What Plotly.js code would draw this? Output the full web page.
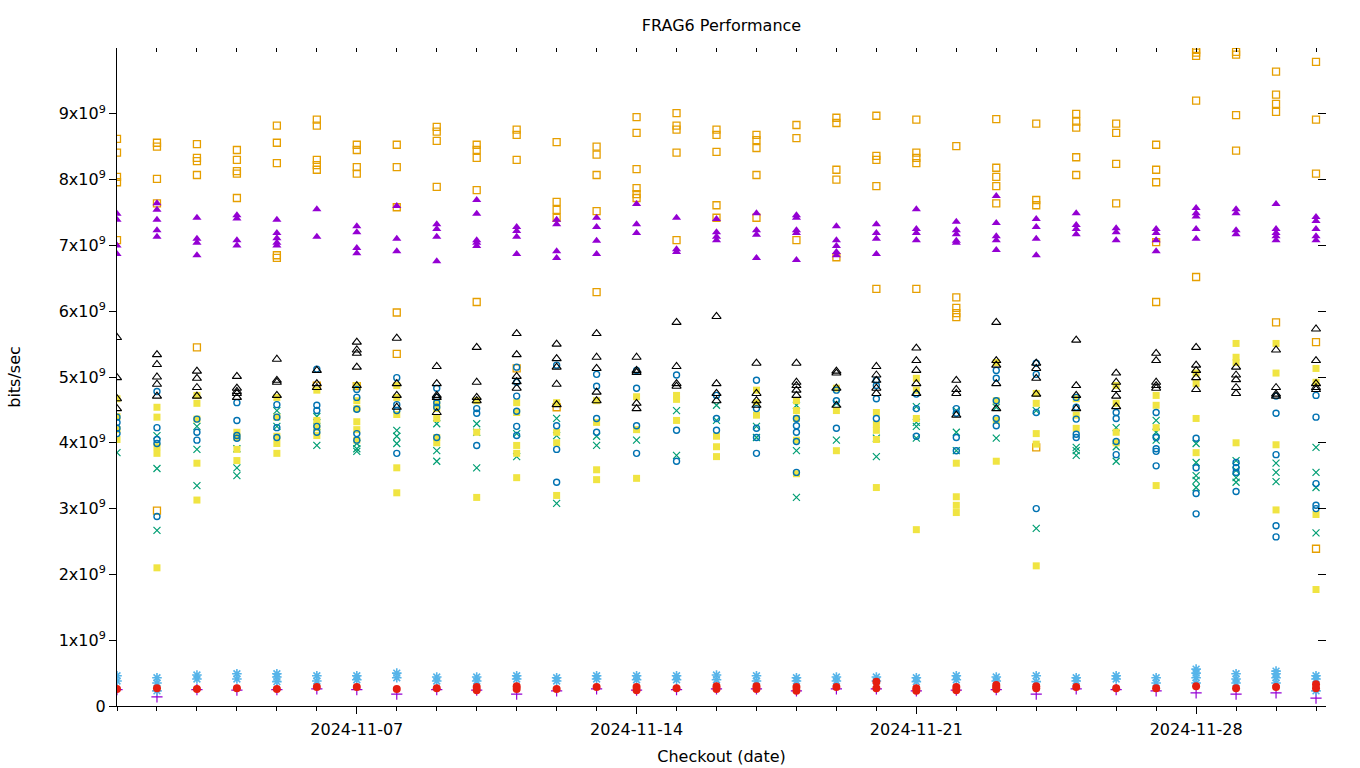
<!DOCTYPE html>
<html>
<head>
<meta charset="utf-8">
<script src="https://cdn.plot.ly/plotly-3.0.1.min.js"></script>
<style>html,body{margin:0;padding:0;background:#fff;}#chart{width:1360px;height:768px;}</style>
</head>
<body>
<div id="chart"></div>
<script>
// Checkout dates (one column of points per day)
const dates = ['2024-11-01','2024-11-02','2024-11-03','2024-11-04','2024-11-05','2024-11-06','2024-11-07','2024-11-08','2024-11-09','2024-11-10','2024-11-11','2024-11-12','2024-11-13','2024-11-14','2024-11-15','2024-11-16','2024-11-17','2024-11-18','2024-11-19','2024-11-20','2024-11-21','2024-11-22','2024-11-23','2024-11-24','2024-11-25','2024-11-26','2024-11-27','2024-11-28','2024-11-29','2024-11-30','2024-12-01'];

// values in units of 1e9 bits/sec, one sub-list per date
const s1Plus = [[0.25],[0.14],[0.25],[0.24],[0.25],[0.26],[0.25],[0.18],[0.25],[0.24],[0.18],[0.23],[0.26],[0.24],[0.25],[0.26],[0.26],[0.23],[0.26],[0.26],[0.23],[0.24],[0.25],[0.18],[0.26],[0.25],[0.23],[0.20],[0.18],[0.20],[0.12]];
const s2Cross = [[3.85],[4.11,3.61,2.67],[4.25,3.90,3.35],[3.91,3.62,3.50],[4.49,4.25],[4.40,4.25,3.96],[3.99,3.91,3.87],[4.19,4.10,3.99],[4.29,3.88,3.72],[4.29,4.16,3.62],[4.14,3.79],[4.37,4.11,3.08],[4.10,3.96],[4.04],[4.49,3.81],[4.57,4.34],[4.25,4.08],[4.57,3.88,3.17],[4.60,4.04],[4.07,3.79],[4.55,4.31,4.25,4.07],[4.49,4.16,3.88],[4.54,4.07],[4.49,2.70],[3.93,3.88,3.81],[4.23,3.94,3.72],[4.34,4.16,4.04],[3.99,3.70,3.50,3.43,3.32],[3.73,3.58,3.47,3.40],[3.69,3.55,3.41],[3.93,3.55,3.32,2.63]];
const s3Star = [[0.46,0.38],[0.43,0.35,0.23],[0.47,0.41],[0.49,0.41],[0.49,0.44,0.37],[0.46,0.38],[0.46,0.40],[0.50,0.43],[0.44,0.38],[0.44,0.38],[0.46,0.41],[0.43,0.38],[0.46,0.41],[0.46,0.40],[0.46,0.40],[0.47,0.40],[0.46,0.38],[0.43,0.38],[0.44,0.38],[0.44,0.38],[0.43,0.37],[0.46,0.40],[0.44,0.38],[0.46,0.37],[0.43,0.38],[0.46,0.41],[0.43,0.35],[0.56,0.50,0.43,0.35],[0.49,0.41,0.35],[0.53,0.49,0.43,0.35],[0.46,0.41,0.23]];
const s4OpenSq = [[8.62,8.41,8.04,7.96,7.08],[8.56,8.50,8.01,7.64,2.97],[8.54,8.33,8.28,8.07,5.45],[8.45,8.30,8.13,8.09,7.72],[8.82,8.56,8.25,6.85,6.81],[8.91,8.82,8.30,8.22,8.15,4.87],[8.53,8.45,8.19,8.09,4.86],[8.53,8.19,7.58,5.98,5.35],[8.80,8.73,8.59,7.89],[8.53,8.45,8.33,7.84,6.14],[8.76,8.68,8.30,5.13],[8.57,7.66,7.54,7.42,4.54],[8.50,8.38,8.07,7.52,6.29],[8.95,8.71,8.16,7.87,7.78,7.72],[9.01,8.82,8.76,8.41,7.08],[8.76,8.68,8.42,7.61,7.42],[8.68,8.60,8.48,8.07,7.42],[8.83,8.63,7.08],[8.94,8.86,8.15,8.00,6.82],[8.97,8.36,8.30,7.90,6.34],[8.91,8.41,8.33,8.25,6.34],[8.51,6.21,6.05,5.97,5.91],[8.92,8.18,8.04,7.90,7.64],[8.85,7.69,7.61,3.93],[9.00,8.88,8.79,8.34,8.07],[8.85,8.71,8.24,7.64],[8.53,8.15,7.96,7.05,6.14],[9.97,9.93,9.88,9.20,6.52],[9.94,9.90,8.98,8.44],[9.64,9.29,9.15,9.03,5.83],[9.79,8.91,8.09,5.53,2.39]];
const s5FillSq = [[4.67,4.40,4.20,4.05],[4.54,4.39,3.94,3.84,2.10],[4.72,4.60,4.36,3.69,3.13],[4.16,4.08,3.90,3.73],[4.69,4.39,4.10,3.99,3.84],[4.80,4.34,4.23,4.11],[4.87,4.64,4.52,4.32,4.20,4.04],[4.87,4.69,4.43,3.62,3.24],[4.61,4.52,4.37,4.08,4.00],[4.64,4.16,3.17],[4.61,4.46,3.96,3.84,3.47],[4.61,4.16,4.00,3.20],[4.64,4.31,3.59,3.44],[4.70,4.20,3.46],[4.72,4.66,4.34],[4.10,3.94,3.79],[4.80,4.61,4.42],[4.64,4.49,4.37,4.04,3.53],[4.83,4.49,3.88],[4.46,4.28,4.19,4.05,3.32],[4.98,4.80,4.37,2.68],[3.69,3.18,3.05,2.94],[5.22,4.64,4.34,3.72],[4.75,4.60,4.14,3.98,2.13],[4.67,4.42,4.22],[4.87,4.60,4.16,4.00],[4.72,4.57,4.23,3.35],[5.06,4.90,4.37,3.85],[5.51,5.30,5.22,4.00],[5.51,5.06,3.97,2.98],[5.13,4.92,2.91,1.77]];
const s6Circ = [[4.39,4.31,4.22,4.14],[4.78,4.23,4.05,3.99,2.88],[4.36,4.16,4.04],[4.61,4.34,4.11,4.07],[4.58,4.39,4.23,4.08],[5.12,4.57,4.49,4.25,4.16],[4.81,4.69,4.51,4.14,4.04],[4.99,4.58,4.49,3.84],[4.83,4.69,4.61,4.54,4.08],[4.52,4.45,3.96],[5.15,4.92,4.71,4.48,4.25,4.11],[5.18,4.26,3.90,3.40],[5.04,4.86,4.37,4.16],[5.10,4.83,4.26,3.84],[5.03,4.19,3.72],[4.72,4.37,4.19],[4.95,4.52,4.22,4.08,3.84],[4.37,4.26,4.16,4.02,3.55],[4.80,4.64,4.22],[4.95,4.87,4.67,4.37],[4.74,4.52,4.10],[4.52,4.45,4.08,3.88],[5.10,4.98,4.64,4.37,4.26],[5.21,5.04,4.46,3.00],[4.69,4.54,4.36,4.13,4.08],[4.46,4.37,4.02,3.82],[4.46,4.08,3.91,3.87,3.65],[4.07,3.62,3.23,2.92],[3.70,3.62,3.55,3.26],[4.71,4.45,3.82,2.74,2.57],[4.72,4.39,3.38,3.05,3.00]];
const s7Dot = [[0.26],[0.27],[0.26],[0.27],[0.26],[0.29],[0.29],[0.26],[0.27],[0.29,0.24],[0.30,0.26],[0.26],[0.29],[0.29,0.24],[0.27],[0.30,0.26],[0.30,0.26],[0.29,0.23],[0.29],[0.37,0.27],[0.27,0.23],[0.29,0.24],[0.32,0.29,0.26],[0.30,0.27],[0.29],[0.27],[0.27],[0.30],[0.27],[0.29],[0.33,0.27]];
const s8OpenTri = [[5.60,4.99,4.67,4.52],[5.34,5.19,5.00,4.89,4.71],[5.09,4.98,4.84,4.71],[5.01,4.83,4.78,4.75,4.69],[5.27,4.95,4.92,4.72],[5.10,4.90,4.84],[5.53,5.41,5.36,5.15,4.87],[5.59,4.90,4.72,4.54],[5.16,4.90,4.72,4.69,4.46],[5.45,4.92,4.69,4.64],[5.66,5.34,5.01,4.93,4.83],[5.50,5.28,5.15,4.89,4.58],[5.66,5.30,5.13,4.77,4.64],[5.30,5.10,5.07,4.60,4.52],[5.83,5.16,4.90,4.86],[5.92,4.90,4.75,4.64],[5.21,4.75,4.64,4.57],[5.21,4.92,4.87,4.80,4.72],[5.09,5.06,4.83,4.57],[5.16,5.03,4.95,4.83,4.75],[5.44,5.25,5.10,4.90,4.75],[4.95,4.81,4.75,4.42],[5.83,5.25,5.18,4.90,4.52],[5.21,5.13,4.98,4.74],[5.56,4.87,4.72,4.52],[5.06,4.92,4.81,4.71,4.55],[5.36,5.25,4.92,4.87,4.83],[5.45,5.18,5.10,4.99,4.81],[5.15,5.03,4.96,4.84,4.75],[5.41,4.84,4.74,4.71],[5.73,5.25,4.90,4.84,4.81]];
const s9FillTri = [[7.48,7.39,7.00,6.87],[7.64,7.54,7.39,7.23,7.13],[7.42,7.10,7.04,6.85],[7.46,7.41,7.08,7.00],[7.39,7.19,7.11,7.04,7.00],[7.55,7.13],[7.29,7.20,6.96,6.88],[7.60,7.10,6.91],[7.32,7.25,7.13,6.76],[7.69,7.48,7.08,7.04,6.99],[7.28,7.22,7.13,6.87],[7.39,7.32,6.91,6.81],[7.42,7.28,7.07,6.87],[7.63,7.32,7.19],[7.42,6.94,6.90],[7.40,7.20,7.13,7.08],[7.49,7.23,7.16,6.81],[7.46,7.42,7.23,7.19,6.78],[7.29,7.08,6.99,6.90,6.85],[7.32,7.19,7.10,6.87],[7.55,7.25,7.19,7.08],[7.36,7.23,7.17,7.07,7.04],[7.75,7.34,7.14,7.08,6.93],[7.40,7.28,7.10,6.85],[7.49,7.31,7.25,7.17],[7.26,7.20,7.08],[7.25,7.19,7.08,6.91],[7.57,7.49,7.44,7.25,7.10],[7.55,7.49,7.23,7.17],[7.63,7.25,7.19,7.14,7.08],[7.43,7.37,7.25,7.14,7.08]];

const yTickVals = [0,1,2,3,4,5,6,7,8,9];
const yTickText = ['0','1x10<sup>9</sup>','2x10<sup>9</sup>','3x10<sup>9</sup>','4x10<sup>9</sup>','5x10<sup>9</sup>','6x10<sup>9</sup>','7x10<sup>9</sup>','8x10<sup>9</sup>','9x10<sup>9</sup>'];

function flatten(series){
  const x=[], y=[];
  series.forEach((vals,i)=>vals.forEach(v=>{x.push(dates[i]); y.push(v*1e9);}));
  return {x,y};
}
function tr(series, symbol, color, size, lw){
  const f = flatten(series);
  return {type:'scatter', mode:'markers', x:f.x, y:f.y, hoverinfo:'skip',
    marker:{symbol:symbol, size:size, color:color, line:{color:color, width:lw}}};
}
const traces = [
  tr(s1Plus,'cross-thin-open','#9400d3',8,1.2),
  tr(s2Cross,'x-thin-open','#009e73',7,1.2),
  tr(s3Star,'asterisk-open','#56b4e9',8,1.6),
  tr(s4OpenSq,'square-open','#e69f00',7,1.3),
  tr(s5FillSq,'square','#f0e442',7,0),
  tr(s6Circ,'circle-open','#0072b2',6,1.4),
  tr(s7Dot,'circle','#e51e10',8,0),
  tr(s8OpenTri,'triangle-up-open','#000000',8,1.1),
  tr(s9FillTri,'triangle-up','#9400d3',8,0),
  {type:'scatter', mode:'markers', x:[], y:[], xaxis:'x2', yaxis:'y2', hoverinfo:'skip', showlegend:false}
];

const xr = ['2024-11-01 00:00','2024-12-01 06:00'];
const yr = [0, 1e10];
const font = {family:'DejaVu Sans, sans-serif', size:16, color:'#000'};
const layout = {
  width:1360, height:768, showlegend:false,
  paper_bgcolor:'#fff', plot_bgcolor:'#fff',
  font: font,
  margin:{l:117, r:34, t:48, b:62, pad:0},
  title:{text:'FRAG6 Performance', x:0.5, xref:'paper', xanchor:'center', y:1-25/768, yanchor:'middle', yref:'container', font:font},
  xaxis:{type:'date', range:xr, showgrid:false, zeroline:false, showline:true, linecolor:'#000', linewidth:1,
    ticks:'outside', ticklen:7, tickcolor:'#000', tickwidth:1, ticklabelstandoff:2,
    tick0:'2024-11-07', dtick:7*86400000, tickformat:'%Y-%m-%d',
    minor:{dtick:86400000, tick0:'2024-11-01', ticks:'outside', ticklen:4, tickcolor:'#000', showgrid:false},
    title:{text:'Checkout (date)', font:font, standoff:12}, automargin:false},
  yaxis:{range:yr, showgrid:false, zeroline:false, showline:true, linecolor:'#000', linewidth:1,
    ticks:'outside', ticklen:7, tickcolor:'#000',
    tickmode:'array', tickvals:yTickVals.map(v=>v*1e9), ticktext:yTickText,
    title:{text:'bits/sec', font:font, standoff:34}, automargin:false},
  xaxis2:{type:'date', overlaying:'x', side:'top', range:xr, showgrid:false, zeroline:false, showline:false,
    ticks:'inside', ticklen:4, tickcolor:'#000', showticklabels:false,
    tick0:'2024-11-07', dtick:7*86400000,
    minor:{dtick:86400000, tick0:'2024-11-01', ticks:'inside', ticklen:4, tickcolor:'#000', showgrid:false}},
  yaxis2:{overlaying:'y', side:'right', range:yr, showgrid:false, zeroline:false, showline:false,
    ticks:'inside', ticklen:8, tickcolor:'#000', showticklabels:false,
    tickmode:'array', tickvals:yTickVals.map(v=>v*1e9)}
};
Plotly.newPlot('chart', traces, layout, {staticPlot:true, displayModeBar:false});
</script>
</body>
</html>
